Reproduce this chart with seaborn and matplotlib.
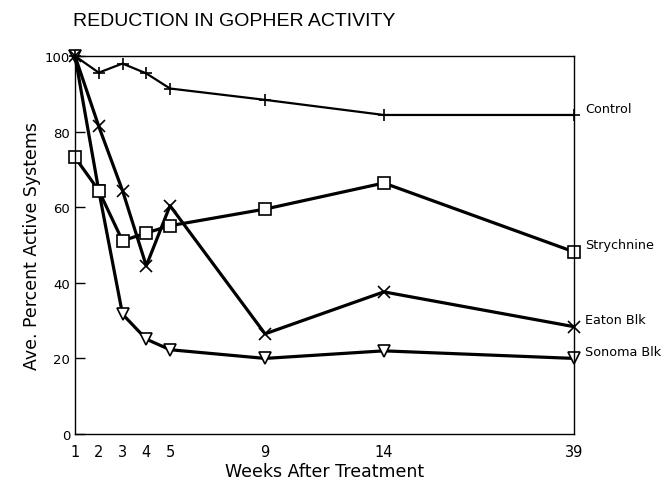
import numpy as np
import pandas as pd
import matplotlib
matplotlib.use("Agg")
import matplotlib.pyplot as plt
import seaborn as sns

# data
weeks = [1, 2, 3, 4, 5, 9, 14, 39]
control = [100, 95.6, 98, 95.4, 91.4, 88.4, 84.4, 84.4]
strychnine = [73.2, 64.4, 51.1, 53.2, 55.1, 59.5, 66.4, 48.2]
eaton_blk = [100, 81.4, 64.4, 44.5, 60.4, 26.5, 37.6, 28.4]
sonoma_blk = [100, 64.4, 31.7, 25.1, 22.3, 20.0, 22.0, 20.0]
series_names = ["Sonoma Blk", "Control", "Eaton Blk", "Strychnine"]
tick_weeks = [1, 2, 3, 4, 5, 9, 14, 39]

df = pd.DataFrame({
    "week": weeks * 4,
    "pct": sonoma_blk + control + eaton_blk + strychnine,
    "series": np.repeat(series_names, len(weeks)),
})

# the x axis is linear up to week 14, then compressed
def fwd(w):
    w = np.asarray(w, dtype=float)
    return np.where(w <= 14, w, 14 + (w - 14) * 0.32)

def inv(t):
    t = np.asarray(t, dtype=float)
    return np.where(t <= 14, t, 14 + (t - 14) / 0.32)

sns.set_style("ticks", {"axes.edgecolor": "black", "text.color": "black",
                        "axes.labelcolor": "black", "xtick.color": "black",
                        "ytick.color": "black"})
plt.rcParams["font.family"] = ["DejaVu Sans"]

fig = plt.figure(figsize=(6.72, 4.81), dpi=100)
ax = fig.add_axes([0.1116, 0.0956, 0.7424, 0.7859])
ax.set_xscale("function", functions=(fwd, inv))

styles = {
    "Sonoma Blk": dict(marker="v", lw=2.3, ms=8, mfc="white"),
    "Control": dict(marker="+", lw=1.6, ms=9, mfc="black"),
    "Eaton Blk": dict(marker="x", lw=2.3, ms=9, mfc="black"),
    "Strychnine": dict(marker="s", lw=2.3, ms=8, mfc="white"),
}

for name in series_names:
    sub = df[df["series"] == name]
    st = styles[name]
    sns.lineplot(data=sub, x="week", y="pct", ax=ax, color="black",
                 marker=st["marker"], lw=st["lw"], ms=st["ms"],
                 mfc=st["mfc"], mec="black", mew=1.2, clip_on=False)
    last = sub["pct"].iloc[-1]
    ax.annotate(name, xy=(sub["week"].iloc[-1], last), xytext=(8, 5),
                textcoords="offset points", ha="left", va="center",
                fontsize=9.2, color="black", annotation_clip=False)

ax.set_xlim(1, 39)
ax.set_ylim(0, 100)
ax.set_xticks(tick_weeks)
ax.set_xticklabels([str(w) for w in tick_weeks], fontsize=10.5)
ax.set_yticks([0, 20, 40, 60, 80, 100])
ax.tick_params(axis="y", direction="in", length=7, labelsize=9.5, width=1)
ax.tick_params(axis="x", length=0, labelsize=10.5, pad=7)
ax.minorticks_off()
for s in ax.spines.values():
    s.set_linewidth(1.0)
    s.set_color("black")

ax.set_xlabel("Weeks After Treatment", fontsize=12.5, labelpad=2)
ax.set_ylabel("Ave. Percent Active Systems", fontsize=12.5, labelpad=3)

fig.text(234 / 672, 1 - 22 / 481, "REDUCTION IN GOPHER ACTIVITY",
         ha="center", va="center", fontsize=14, color="black",
         family=["Liberation Sans", "DejaVu Sans"])

fig.savefig("out.png", dpi=100)
